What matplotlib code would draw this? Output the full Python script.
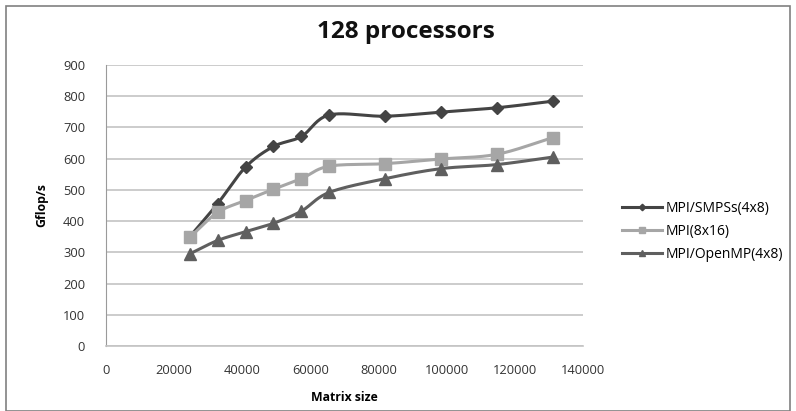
import numpy as np
import matplotlib
matplotlib.use("Agg")
import matplotlib.pyplot as plt
from matplotlib.patches import Rectangle

plt.rcParams['font.family'] = ['Open Sans', 'DejaVu Sans']

matrix_size = [24576, 32768, 40960, 49152, 57344, 65536, 81920, 98304, 114688, 131072]
smpss = [350, 456, 573, 639, 671, 740, 736, 749, 763, 784]
mpi = [348, 428, 466, 502, 536, 576, 584, 599, 614, 667]
openmp = [295, 338, 366, 393, 432, 492, 536, 568, 581, 605]
series_names = ["MPI/SMPSs(4x8)", "MPI(8x16)", "MPI/OpenMP(4x8)"]
x_ticks = [0, 20000, 40000, 60000, 80000, 100000, 120000, 140000]
y_ticks = [0, 100, 200, 300, 400, 500, 600, 700, 800, 900]


def smooth(x, y, n=20):
    # Catmull-Rom rendering of the line through the data points
    x = np.asarray(x, float); y = np.asarray(y, float)
    px = np.concatenate([[2 * x[0] - x[1]], x, [2 * x[-1] - x[-2]]])
    py = np.concatenate([[2 * y[0] - y[1]], y, [2 * y[-1] - y[-2]]])
    xs, ys = [], []
    t = np.linspace(0, 1, n, endpoint=False)
    for i in range(1, len(px) - 2):
        for arr, out in ((px, xs), (py, ys)):
            p0, p1, p2, p3 = arr[i - 1], arr[i], arr[i + 1], arr[i + 2]
            out.extend(0.5 * ((2 * p1) + (-p0 + p2) * t
                              + (2 * p0 - 5 * p1 + 4 * p2 - p3) * t ** 2
                              + (-p0 + 3 * p1 - 3 * p2 + p3) * t ** 3))
    xs.append(x[-1]); ys.append(y[-1])
    return np.array(xs), np.array(ys)


W, H = 796, 411
fig = plt.figure(figsize=(W / 100, H / 100), dpi=100)
fig.patch.set_facecolor('white')
fig.add_artist(Rectangle((6 / W, 0), 1 - 12 / W, 1 - 6 / H, transform=fig.transFigure,
                         fill=False, edgecolor='#808080', linewidth=1.2))

ax = fig.add_axes([106 / W, 1 - 346 / H, (583 - 106) / W, (346 - 65) / H])
ax.set_xlim(0, 140000)
ax.set_ylim(0, 900)
ax.set_xticks(x_ticks)
ax.set_xticklabels([str(v) for v in x_ticks])
ax.set_yticks(y_ticks)
ax.set_yticklabels([str(v) for v in y_ticks])
ax.grid(axis='y', color='#c4c4c4', linewidth=1.2)
ax.set_axisbelow(True)
for s in ['top', 'right']:
    ax.spines[s].set_visible(False)
ax.spines['left'].set_color('#9a9a9a')
ax.spines['bottom'].set_color('#c4c4c4')
ax.spines['bottom'].set_linewidth(1.2)
ax.tick_params(axis='both', length=0, labelsize=9.3, colors='#333333')
ax.tick_params(axis='y', pad=15)
ax.tick_params(axis='x', pad=13)

styles = [(smpss, '#444444', 'D', 6), (mpi, '#a6a6a6', 's', 8), (openmp, '#5f5f5f', '^', 8)]
handles = []
for (vals, col, mk, ms), name in zip(styles, series_names):
    sx, sy = smooth(matrix_size, vals)
    ax.plot(sx, sy, color=col, linewidth=2.2, solid_capstyle='round')
    ax.plot(matrix_size, vals, linestyle='none', marker=mk, color=col, markersize=ms)
    h, = ax.plot([], [], color=col, linewidth=2.2, marker=mk, markersize=ms * 0.55, label=name)
    handles.append(h)

fig.text(406 / W, 1 - 32 / H, "128 processors", fontsize=17.5, fontweight='bold',
         color='#111111', ha='center', va='center')
ax.set_xlabel("Matrix size", fontsize=8.8, fontweight='bold', labelpad=10)
ax.set_ylabel("Gflop/s", fontsize=8.8, fontweight='bold', labelpad=11)

fig.legend(handles=handles, loc='upper left', bbox_to_anchor=(609 / W, 1 - 188 / H),
           frameon=False, fontsize=10, handlelength=2.9, handletextpad=0.25,
           labelspacing=0.6)

fig.savefig("out.png", dpi=100)
